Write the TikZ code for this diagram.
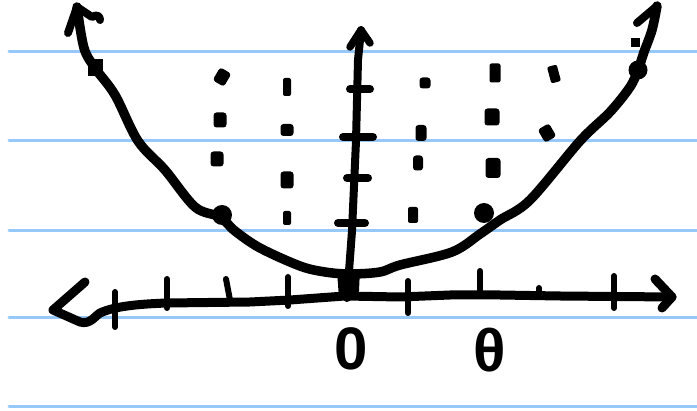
\documentclass[tikz,border=0pt]{standalone}
\usepackage{fontspec}
\setmainfont{Liberation Sans}
\definecolor{ruleblue}{RGB}{150,200,250}
\begin{document}
\begin{tikzpicture}[x=1pt,y=-1pt,line cap=round,line join=round,
  ruled/.style={draw=ruleblue,line width=3pt},
  ink/.style={draw=black,line width=9.5pt},
  axisink/.style={draw=black,line width=9pt},
  tickmark/.style={draw=black,line width=6pt},
  blob/.style={fill=black,inner sep=0pt,rounded corners=3pt,minimum width=13pt,minimum height=15pt},
  thinblob/.style={fill=black,inner sep=0pt,rounded corners=2pt,minimum width=8pt,minimum height=18pt},
  bigblob/.style={fill=black,inner sep=0pt,circle,minimum size=20pt},
  hand/.style={font=\fontsize{60}{60}\selectfont\bfseries}]
\useasboundingbox (0,0) rectangle (697,411);
% ruled paper
\foreach \y in {52,141,231,318,407} \draw[ruled] (9,\y) -- (697,\y);

% parabola
\coordinate (pl) at (77,7);
\coordinate (pr) at (657,6);
\draw[ink] plot[smooth,tension=0.55] coordinates {(77,7) (84,48) (95,68) (115,95) (138,141) (165,170) (195,207) (220,217) (235,231) (260,248) (300,266) (325,272) (350,274) (380,272) (400,265) (452,252) (480,234) (500,220) (530,200) (580,141) (610,112) (630,87) (638,70) (644,52) (652,30) (657,6)};
\draw[ink,line width=8pt] (68,33) -- (pl) -- (92,17) .. controls (97,14) and (100,16) .. (100,20);
\draw[ink,line width=8pt] (637,23) -- (pr);

% x axis
\coordinate (xl) at (53,310);
\coordinate (xr) at (672,297);
\draw[axisink] (85,282) -- (xl) -- (80,322) .. controls (90,325) and (95,316) .. (100,313) .. controls (115,306) and (140,304) .. (167,303) -- (250,302) -- (290,300) -- (345,296) -- (400,297) -- (450,295) -- (500,295) -- (560,296) -- (xr);
\draw[axisink] (655,279) -- (xr) -- (662,308);
\foreach \x/\a/\b in {115/292/327,167/279/308,288/277/306,408/281/313,480/271/290,539/288/295,614/276/308}
  \draw[tickmark] (\x,\a) -- (\x,\b);
\draw[tickmark] (226,279) -- (230,300);

% y axis
\coordinate (yb) at (347,298);
\coordinate (yt) at (361,30);
\draw[axisink,line width=8pt] (yb) -- (352,231) -- (356,141) -- (358,60) -- (yt);
\draw[axisink,line width=7.5pt] (350,47) -- (yt) -- (370,43);
\foreach \a/\b/\y in {350/370/89,343/373/137,347/368/178,338/365/223}
  \draw[tickmark,line width=8pt] (\a,\y) -- (\b,\y);
\fill[black] (337,271) -- (360,269) -- (359,291) -- (354,300) -- (339,298) -- cycle;

% dots
\node[blob,rotate=-30] (a1) at (222,77) {};
\node[blob] (a2) at (220,120) {};
\node[blob] (a3) at (217,159) {};
\node[bigblob] (a4) at (222,215) {};
\node[thinblob] (b1) at (287,87) {};
\node[blob,minimum height=12pt] (b2) at (287,130) {};
\node[blob,minimum height=17pt] (b3) at (287,180) {};
\node[thinblob,minimum height=14pt] (b4) at (287,218) {};
\node[blob,minimum height=11pt,minimum width=11pt] (c1) at (425,83) {};
\node[blob,minimum width=11pt,minimum height=16pt] (c2) at (421,133) {};
\node[blob,minimum width=10pt,minimum height=15pt] (c3) at (418,163) {};
\node[thinblob,minimum width=10pt,minimum height=16pt] (c4) at (413,215) {};
\node[thinblob,minimum width=11pt,minimum height=19pt] (d1) at (495,73) {};
\node[blob,minimum width=15pt,minimum height=17pt] (d2) at (492,117) {};
\node[blob,minimum width=15pt,minimum height=20pt] (d3) at (493,168) {};
\node[bigblob] (d4) at (484,213) {};
\node[thinblob,minimum width=10pt,minimum height=17pt,rotate=15] (e1) at (554,74) {};
\node[blob,rotate=30] (e2) at (547,133) {};
\node[bigblob,minimum size=19pt] (f1) at (638,70) {};
\node[fill=black,inner sep=0pt,minimum size=9pt] (f2) at (635,43) {};
\node[fill=black,inner sep=0pt,minimum width=15pt,minimum height=17pt] (g1) at (95,68) {};

% labels
\node[hand] (lab0) at (351,349) {0};
\node[hand] (labt) at (490,350) {θ};
\end{tikzpicture}
\end{document}
